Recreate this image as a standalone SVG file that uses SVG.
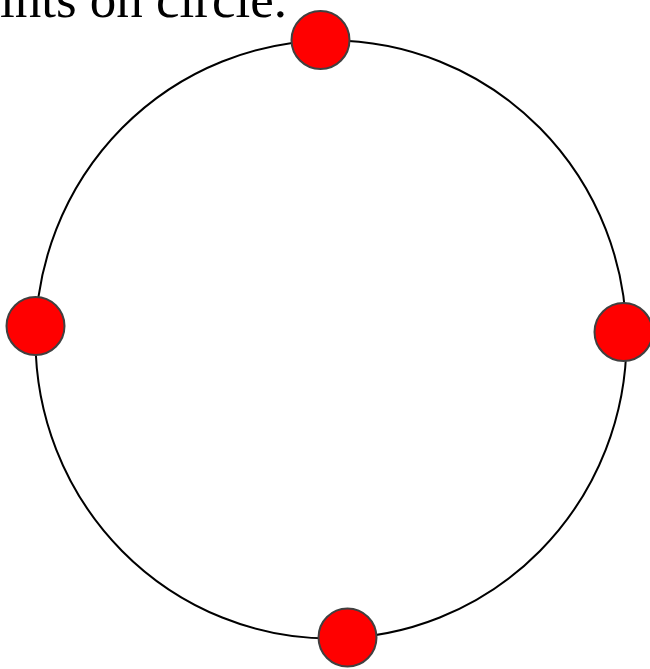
<svg xmlns="http://www.w3.org/2000/svg" width="650" height="669" viewBox="0 0 650 669">
<style>
.pt{fill:#ff0000;stroke:#404040;stroke-width:2}
.ring{fill:none;stroke:#000;stroke-width:2}
.title{font-family:"Liberation Serif",serif;font-size:53px;fill:#000}
</style>
<rect width="650" height="669" fill="#fff"/>
<text class="title" x="-56" y="17">Points on circle.</text>
<g id="connectors">
<ellipse class="ring" cx="331" cy="339.5" rx="295.5" ry="299"/>
</g>
<g id="p1"><circle class="pt" cx="320.5" cy="40" r="29"/></g>
<g id="p2"><circle class="pt" cx="35.5" cy="326" r="29"/></g>
<g id="p3"><circle class="pt" cx="623.5" cy="332" r="29"/></g>
<g id="p4"><circle class="pt" cx="347.5" cy="637.5" r="29"/></g>
</svg>
